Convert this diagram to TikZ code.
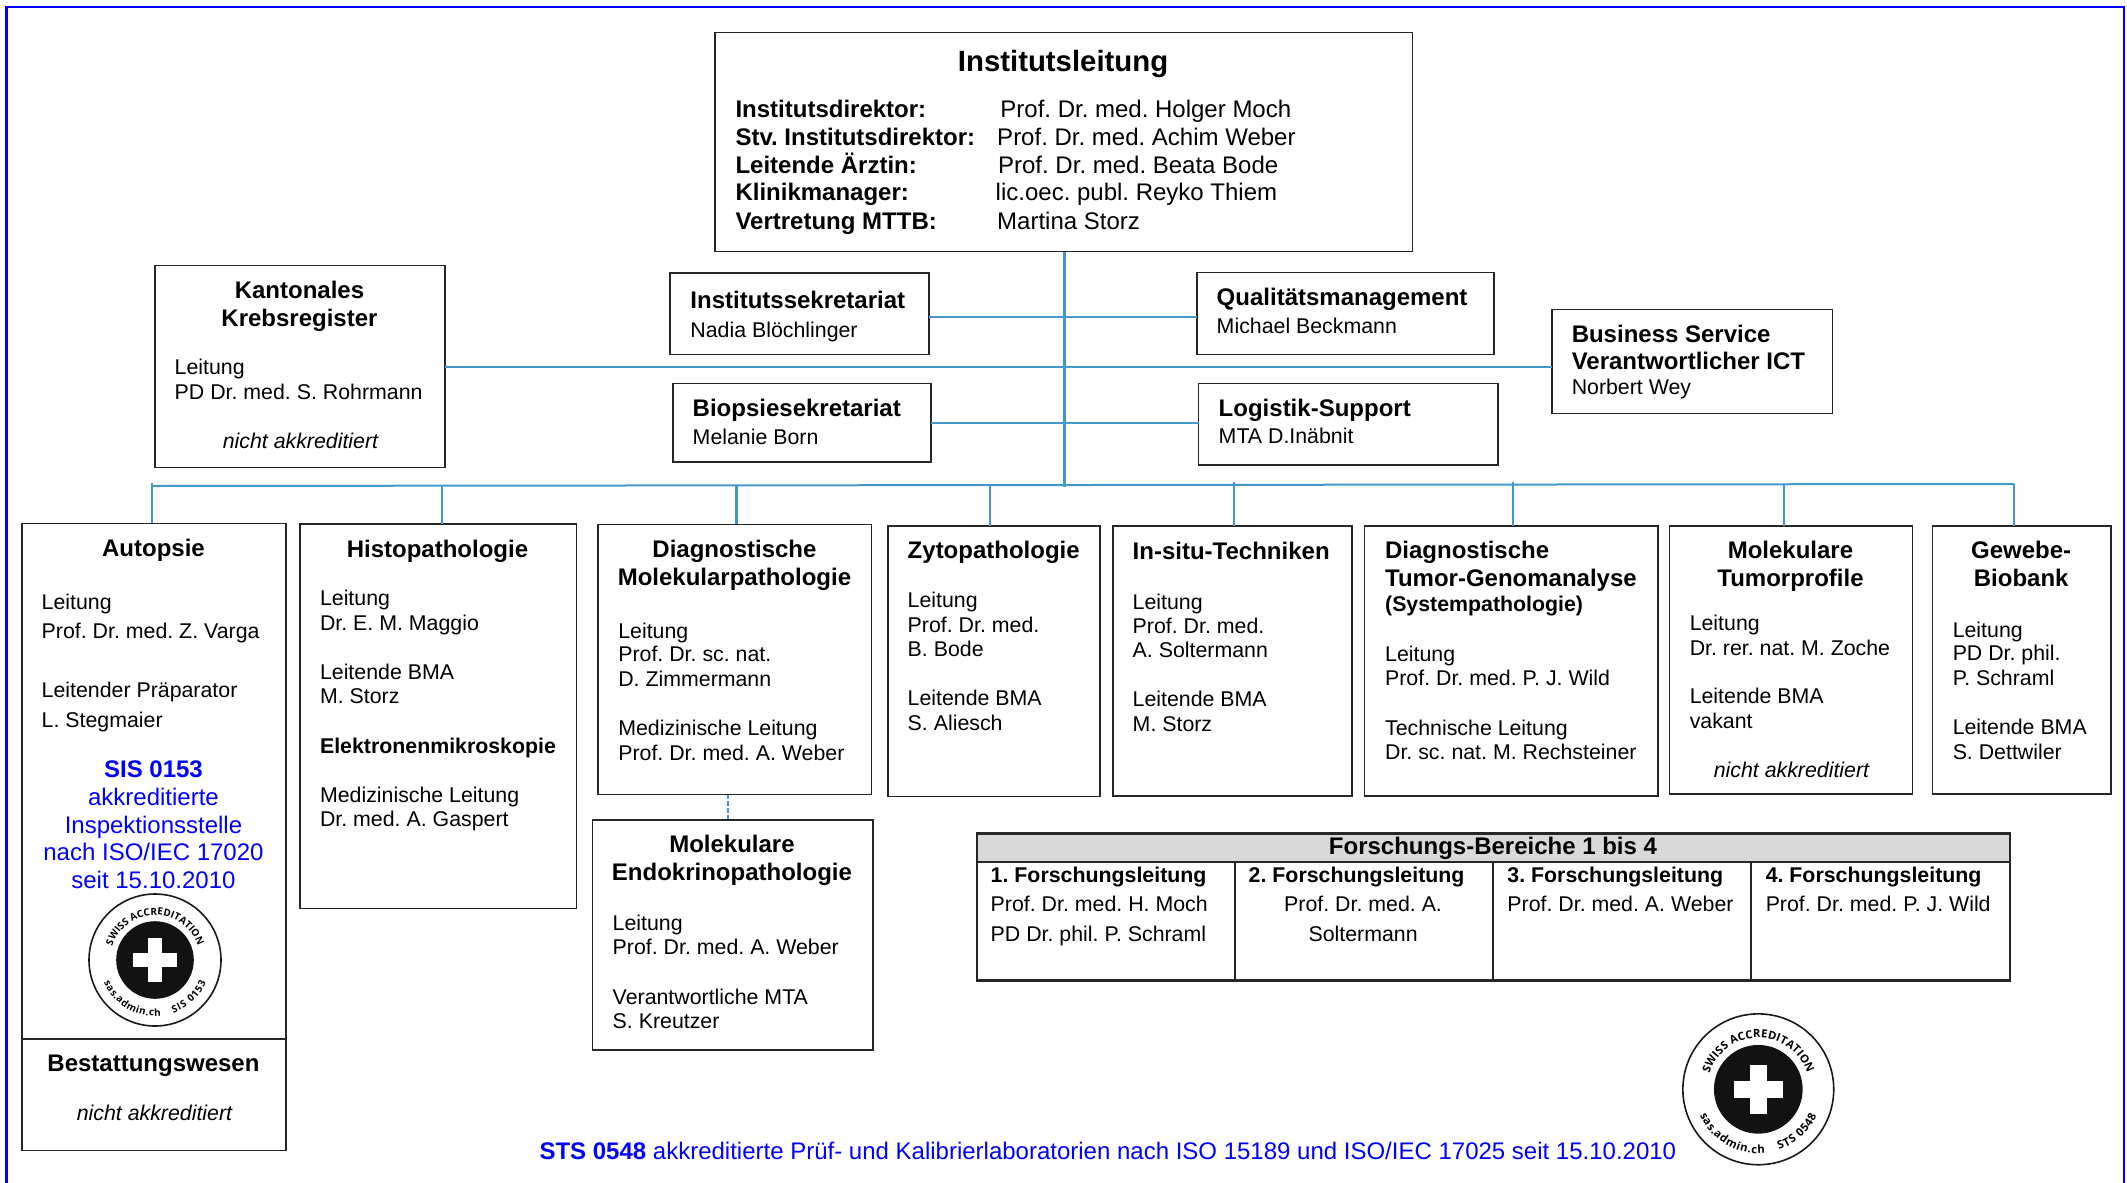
\documentclass[tikz,border=0pt]{standalone}
\usepackage{fontspec}
\setmainfont{Liberation Sans}
\newfontfamily\sealfamily{Open Sans}
\frenchspacing
\usetikzlibrary{decorations.text}
\definecolor{orglink}{HTML}{4299C9}
\definecolor{orggrey}{HTML}{D9D9D9}
\tikzset{
  boxsize/.style 2 args={minimum width=#1*0.75pt,minimum height=#2*0.75pt},
  orgbox/.style={draw=black!85,line width=1.1pt,inner sep=0pt,outer sep=0pt},
  bodytext/.style={anchor=base west,inner sep=0pt,xshift=-0.4pt,yshift=-0.6pt,font=\fontsize{16}{19}\selectfont},
  bodymid/.style={bodytext,anchor=base},
  headtext/.style={bodytext,font=\fontsize{18}{21}\selectfont\bfseries},
  headmid/.style={headtext,anchor=base},
  subhead/.style={bodytext,font=\fontsize{16}{19}\selectfont\bfseries},
  nonakk/.style={bodymid,font=\fontsize{16}{19}\selectfont\itshape},
  toptext/.style={bodytext,font=\fontsize{18}{21}\selectfont},
  bluetext/.style={toptext,anchor=base,text=blue},
  spine/.style={draw=orglink,line width=1.9pt},
  link/.style={draw=orglink,line width=1.2pt},
}
\newcommand{\sealmark}[5]{
  \begin{scope}[shift={(#1,#2)},x=#3*0.75pt,y=#3*0.75pt]
    \draw[line width=1.2pt,draw=black!90] (0,0) circle[radius=66];
    \fill[black!93] (0,0) circle[radius=38.8];
    \fill[white] (-7.2,-21.6) rectangle (7.2,21.6);
    \fill[white] (-21.6,-7.2) rectangle (21.6,7.2);
    \path[decorate,decoration={text along path,text align=fit to path,
      text={|\sealfamily\bfseries\fontsize{#4}{#4}\selectfont|SWISS ACCREDITATION}}]
      (162:45) arc[start angle=162,end angle=18,radius=45];
    \path[decorate,decoration={text along path,text align=fit to path,
      text={|\sealfamily\bfseries\fontsize{#4}{#4}\selectfont|sas.admin.ch}}]
      (204:56) arc[start angle=204,end angle=276,radius=56];
    \path[decorate,decoration={text along path,text align=fit to path,
      text={|\sealfamily\bfseries\fontsize{#4}{#4}\selectfont|#5}}]
      (289:56) arc[start angle=289,end angle=336,radius=56];
  \end{scope}
}
\begin{document}
\begin{tikzpicture}[x=0.75pt,y=-0.75pt]
  \useasboundingbox (0,0) rectangle (2127,1182);
  \draw[blue,line width=2pt] (6.4,1190) -- (6.4,7) -- (2124,7) -- (2124,1190);

  \node[orgbox,boxsize={697.6}{219}] (leitung) at (1063.8,142.2) {};
  \node[headmid,font=\fontsize{22}{26}\selectfont\bfseries] (leitungT) at (1063.6,70.7) {Institutsleitung};
  \node[headtext] (rolleA) at (735.8,116.7) {Institutsdirektor:};
  \node[headtext] (rolleB) at (735.8,144.3) {Stv. Institutsdirektor:};
  \node[headtext] (rolleC) at (735.8,172.7) {Leitende Ärztin:};
  \node[headtext] (rolleD) at (735.8,200) {Klinikmanager:};
  \node[headtext] (rolleE) at (735.8,228.7) {Vertretung MTTB:};
  \node[toptext] (nameA) at (1000.7,116.7) {Prof. Dr. med. Holger Moch};
  \node[toptext] (nameB) at (997.5,144.3) {Prof. Dr. med. Achim Weber};
  \node[toptext] (nameC) at (998.4,172.7) {Prof. Dr. med. Beata Bode};
  \node[toptext] (nameD) at (996,200) {lic.oec. publ. Reyko Thiem};
  \node[toptext] (nameE) at (997.5,228.7) {Martina Storz};

  \node[orgbox,boxsize={290}{202}] (krebs) at (300,366.7) {};
  \node[headmid] (krebsA) at (300,297.7) {Kantonales};
  \node[headmid] (krebsB) at (300,325.7) {Krebsregister};
  \node[bodytext] (krebsC) at (175,374) {Leitung};
  \node[bodytext] (krebsD) at (175,399) {PD Dr. med. S. Rohrmann};
  \node[nonakk] (krebsE) at (301,448) {nicht akkreditiert};

  \node[orgbox,boxsize={259}{81.7}] (sekr) at (799.5,313.85) {};
  \node[headtext] (sekrA) at (690.7,308) {Institutssekretariat};
  \node[bodytext] (sekrB) at (690.7,336.7) {Nadia Blöchlinger};

  \node[orgbox,boxsize={297}{81.6}] (quali) at (1345.5,313.5) {};
  \node[headtext] (qualiA) at (1217,304.7) {Qualitätsmanagement};
  \node[bodytext] (qualiB) at (1217,332.7) {Michael Beckmann};

  \node[orgbox,boxsize={258}{78.3}] (bio) at (802,422.85) {};
  \node[headtext] (bioA) at (693,415.3) {Biopsiesekretariat};
  \node[bodytext] (bioB) at (693,444) {Melanie Born};

  \node[orgbox,boxsize={299.3}{81.3}] (logi) at (1348.35,424.35) {};
  \node[headtext] (logiA) at (1219,415.3) {Logistik-Support};
  \node[bodytext] (logiB) at (1219,442.7) {MTA D.Inäbnit};

  \node[orgbox,boxsize={280.7}{104.1}] (biz) at (1692.35,361.35) {};
  \node[headtext] (bizA) at (1572,341.7) {Business Service};
  \node[headtext] (bizB) at (1572,368.4) {Verantwortlicher ICT};
  \node[bodytext] (bizC) at (1572,394) {Norbert Wey};

  \node[orgbox,boxsize={264.2}{515.7}] (autopsie) at (153.9,781.15) {};
  \node[headmid] (autopsieA) at (154,556) {Autopsie};
  \node[bodytext] (autopsieB) at (42,609) {Leitung};
  \node[bodytext] (autopsieC) at (42,638) {Prof. Dr. med. Z. Varga};
  \node[bodytext] (autopsieD) at (42,697) {Leitender Präparator};
  \node[bodytext] (autopsieE) at (42,726.7) {L. Stegmaier};
  \node[bluetext,font=\fontsize{18}{21}\selectfont\bfseries] (sisA) at (154,776.7) {SIS 0153};
  \node[bluetext] (sisB) at (154,804.3) {akkreditierte};
  \node[bluetext] (sisC) at (154,832.3) {Inspektionsstelle};
  \node[bluetext] (sisD) at (154,860) {nach ISO/IEC 17020};
  \node[bluetext] (sisE) at (154,887.3) {seit 15.10.2010};
  \sealmark{155}{960}{1}{7.4}{SIS 0153}

  \node[orgbox,boxsize={264.2}{111.7}] (bestattung) at (153.9,1094.85) {};
  \node[headmid] (bestattungA) at (154,1070.7) {Bestattungswesen};
  \node[nonakk] (bestattungB) at (155,1120) {nicht akkreditiert};

  \node[orgbox,boxsize={276.7}{384.3}] (histo) at (438.35,716.15) {};
  \node[headmid] (histoA) at (438,556.7) {Histopathologie};
  \node[bodytext] (histoB) at (320.3,605) {Leitung};
  \node[bodytext] (histoC) at (320.3,630) {Dr. E. M. Maggio};
  \node[bodytext] (histoD) at (320.3,678.7) {Leitende BMA};
  \node[bodytext] (histoE) at (320.3,703) {M. Storz};
  \node[subhead] (histoF) at (320.3,752.7) {Elektronenmikroskopie};
  \node[bodytext] (histoG) at (320.3,802) {Medizinische Leitung};
  \node[bodytext] (histoH) at (320.3,826) {Dr. med. A. Gaspert};

  \node[orgbox,boxsize={273.7}{270.1}] (diagmol) at (734.85,659.45) {};
  \node[headmid] (diagmolA) at (735,557) {Diagnostische};
  \node[headmid] (diagmolB) at (735,584.4) {Molekularpathologie};
  \node[bodytext] (diagmolC) at (618.6,637.5) {Leitung};
  \node[bodytext] (diagmolD) at (618.6,661) {Prof. Dr. sc. nat.};
  \node[bodytext] (diagmolE) at (618.6,686) {D. Zimmermann};
  \node[bodytext] (diagmolF) at (618.6,735) {Medizinische Leitung};
  \node[bodytext] (diagmolG) at (618.6,760) {Prof. Dr. med. A. Weber};

  \node[orgbox,boxsize={280.3}{230}] (endo) at (732.85,935) {};
  \node[headmid] (endoA) at (732.5,852) {Molekulare};
  \node[headmid] (endoB) at (732.5,880) {Endokrinopathologie};
  \node[bodytext] (endoC) at (613,930) {Leitung};
  \node[bodytext] (endoD) at (613,953.8) {Prof. Dr. med. A. Weber};
  \node[bodytext] (endoE) at (613,1003.3) {Verantwortliche MTA};
  \node[bodytext] (endoF) at (613,1028) {S. Kreutzer};

  \node[orgbox,boxsize={212}{270.4}] (zyto) at (994,661.2) {};
  \node[headtext] (zytoA) at (908,558) {Zytopathologie};
  \node[bodytext] (zytoB) at (908,607) {Leitung};
  \node[bodytext] (zytoC) at (908,631.6) {Prof. Dr. med.};
  \node[bodytext] (zytoD) at (908,656) {B. Bode};
  \node[bodytext] (zytoE) at (908,705) {Leitende BMA};
  \node[bodytext] (zytoF) at (908,730) {S. Aliesch};

  \node[orgbox,boxsize={238.8}{270}] (insitu) at (1232.4,661) {};
  \node[headtext] (insituA) at (1133,558.3) {In-situ-Techniken};
  \node[bodytext] (insituB) at (1133,608.3) {Leitung};
  \node[bodytext] (insituC) at (1133,632.7) {Prof. Dr. med.};
  \node[bodytext] (insituD) at (1133,657) {A. Soltermann};
  \node[bodytext] (insituE) at (1133,706) {Leitende BMA};
  \node[bodytext] (insituF) at (1133,730.7) {M. Storz};

  \node[orgbox,boxsize={293.4}{270}] (genom) at (1511.3,661) {};
  \node[headtext] (genomA) at (1385.4,557.7) {Diagnostische};
  \node[headtext] (genomB) at (1385.4,586) {Tumor-Genomanalyse};
  \node[subhead] (genomC) at (1385.4,611) {(Systempathologie)};
  \node[bodytext] (genomD) at (1385.4,660.3) {Leitung};
  \node[bodytext] (genomE) at (1385.4,684.7) {Prof. Dr. med. P. J. Wild};
  \node[bodytext] (genomF) at (1385.4,734.7) {Technische Leitung};
  \node[bodytext] (genomG) at (1385.4,759) {Dr. sc. nat. M. Rechsteiner};

  \node[orgbox,boxsize={242.6}{268}] (profil) at (1791,660) {};
  \node[headmid] (profilA) at (1791,557.7) {Molekulare};
  \node[headmid] (profilB) at (1791,585.8) {Tumorprofile};
  \node[bodytext] (profilC) at (1690,630) {Leitung};
  \node[bodytext] (profilD) at (1690,654.4) {Dr. rer. nat. M. Zoche};
  \node[bodytext] (profilE) at (1690,702.4) {Leitende BMA};
  \node[bodytext] (profilF) at (1690,727.8) {vakant};
  \node[nonakk] (profilG) at (1792,776.8) {nicht akkreditiert};

  \node[orgbox,boxsize={178.3}{268}] (biobank) at (2021.85,660) {};
  \node[headmid] (biobankA) at (2021.7,557.7) {Gewebe-};
  \node[headmid] (biobankB) at (2021.7,585.8) {Biobank};
  \node[bodytext] (biobankC) at (1953,636.5) {Leitung};
  \node[bodytext] (biobankD) at (1953,660) {PD Dr. phil.};
  \node[bodytext] (biobankE) at (1953,685) {P. Schraml};
  \node[bodytext] (biobankF) at (1953,733.5) {Leitende BMA};
  \node[bodytext] (biobankG) at (1953,759) {S. Dettwiler};

  \node[orgbox,fill=orggrey,boxsize={1033}{28.7}] (forschT) at (1493.5,847.65) {};
  \node[headmid] (forschTT) at (1493.5,854) {Forschungs-Bereiche 1 bis 4};
  \node[orgbox,boxsize={258}{118.7}] (forschA) at (1106,921.35) {};
  \node[orgbox,boxsize={258}{118.7}] (forschB) at (1364,921.35) {};
  \node[orgbox,boxsize={258}{118.7}] (forschC) at (1622,921.35) {};
  \node[orgbox,boxsize={259}{118.7}] (forschD) at (1880.5,921.35) {};
  \node[orgbox,line width=1.9pt,boxsize={1033}{147.4}] (forsch) at (1493.5,907) {};
  \node[subhead] (forschA1) at (991,881.7) {1. Forschungsleitung};
  \node[bodytext] (forschA2) at (991,910.7) {Prof. Dr. med. H. Moch};
  \node[bodytext] (forschA3) at (991,940.7) {PD Dr. phil. P. Schraml};
  \node[subhead] (forschB1) at (1249,881.7) {2. Forschungsleitung};
  \node[bodymid] (forschB2) at (1363.6,910.7) {Prof. Dr. med. A.};
  \node[bodymid] (forschB3) at (1363.6,940.7) {Soltermann};
  \node[subhead] (forschC1) at (1507.7,881.7) {3. Forschungsleitung};
  \node[bodytext] (forschC2) at (1507.7,910.7) {Prof. Dr. med. A. Weber};
  \node[subhead] (forschD1) at (1766,881.7) {4. Forschungsleitung};
  \node[bodytext] (forschD2) at (1766,910.7) {Prof. Dr. med. P. J. Wild};

  \node[bodytext,font=\fontsize{18}{21}\selectfont,text=blue] (stsline) at (539.8,1159) {\textbf{STS 0548} akkreditierte Prüf- und Kalibrierlaboratorien nach ISO 15189 und ISO/IEC 17025 seit 15.10.2010};
  \sealmark{1758.3}{1089.3}{1.143}{8.4}{STS 0548}

  \coordinate (spineEnd) at (1064.4,487.3);
  \coordinate (sekrLine) at (1064.4,317);
  \coordinate (barLeft) at (152,486);
  \coordinate (barRight) at (2014,484);
  \coordinate (tickLeft) at (152,483.3);
  \coordinate (dropHisto) at (441.7,485.8);
  \coordinate (dropDiagmol) at (736.6,485.5);
  \coordinate (dropZyto) at (990,485);
  \coordinate (dropInsitu) at (1234,482);
  \coordinate (dropGenom) at (1513,482);
  \coordinate (dropProfil) at (1784,484);
  \coordinate (endoTop) at (727.7,820);

  \draw[spine] (leitung.south -| spineEnd) -- (spineEnd);
  \draw[link,line width=1.4pt] (sekr.east |- sekrLine) -- (quali.west |- sekrLine);
  \draw[spine] (bio.east) -- (bio.east -| logi.west);
  \draw[link,line width=1.5pt] (krebs.east) -- (krebs.east -| biz.west);
  \draw[link,line width=1.5pt] (barLeft) -- (barRight);
  \draw[link,line width=1.6pt] (tickLeft) -- (tickLeft |- autopsie.north);
  \draw[link,line width=1.5pt] (dropHisto) -- (dropHisto |- histo.north);
  \draw[link,line width=1.8pt] (dropDiagmol) -- (dropDiagmol |- diagmol.north);
  \draw[link] (dropZyto) -- (dropZyto |- zyto.north);
  \draw[link] (dropInsitu) -- (dropInsitu |- insitu.north);
  \draw[link] (dropGenom) -- (dropGenom |- genom.north);
  \draw[link] (dropProfil) -- (dropProfil |- profil.north);
  \draw[link] (barRight) -- (barRight |- biobank.north);
  \draw[link,dashed,dash pattern=on 3.5pt off 1.5pt] (endoTop |- diagmol.south) -- (endoTop);
\end{tikzpicture}
\end{document}
